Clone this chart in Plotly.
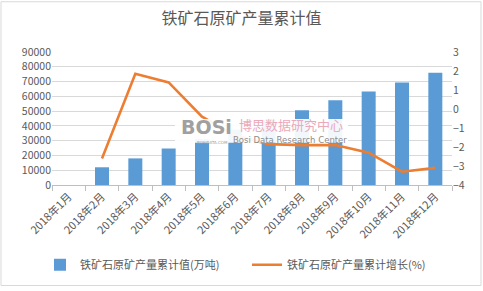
import plotly.graph_objects as go

categories = ["2018年1月", "2018年2月", "2018年3月", "2018年4月", "2018年5月", "2018年6月",
              "2018年7月", "2018年8月", "2018年9月", "2018年10月", "2018年11月", "2018年12月"]
output_values = [None, 12000, 18000, 24700, 31000, 37500, 44000, 50500, 57300, 63300, 69300, 76000]
growth_values = [None, -2.6, 1.85, 1.4, -0.4, -1.4, -1.85, -1.9, -1.9, -2.3, -3.3, -3.1]

bar_name = "铁矿石原矿产量累计值(万吨)"
line_name = "铁矿石原矿产量累计增长(%)"
title_text = "铁矿石原矿产量累计值"

FONT = "Noto Sans CJK SC"
GREY = "#595959"

fig = go.Figure()
fig.add_trace(go.Bar(x=categories, y=output_values, name=bar_name,
                     marker=dict(color="#5B9BD5", line=dict(width=0)), width=0.42, yaxis="y"))
fig.add_trace(go.Scatter(x=categories, y=growth_values, name=line_name, mode="lines",
                         line=dict(color="#ED7D31", width=2.6), yaxis="y2", connectgaps=False))

L, R, T, B = 52, 31, 52, 104
W, H = 483, 291
pw, ph = W - L - R, H - T - B

def px(x):
    return (x - L) / pw

def py(y):
    return (H - B - y) / ph

fig.update_layout(
    width=W, height=H,
    margin=dict(l=L, r=R, t=T, b=B),
    paper_bgcolor="white", plot_bgcolor="white",
    font=dict(family=FONT, size=11, color=GREY),
    title=dict(text=title_text, x=0.5, xanchor="center", y=1 - 18 / H, yanchor="middle",
               font=dict(family=FONT, size=16, color=GREY)),
    bargap=0.58,
    showlegend=True,
    legend=dict(orientation="h", x=px(40), y=py(268), xanchor="left", yanchor="middle",
                font=dict(family=FONT, size=11, color=GREY), entrywidth=162, entrywidthmode="pixels",
                bgcolor="rgba(0,0,0,0)", itemwidth=30),
    xaxis=dict(type="category", tickangle=-45, showgrid=False, showline=True, linecolor="#BFBFBF",
               linewidth=1, ticks="outside", tickson="boundaries", ticklen=5, tickcolor="#BFBFBF",
               tickfont=dict(family=FONT, size=11, color=GREY)),
    yaxis=dict(range=[0, 90000], dtick=10000, showgrid=True, gridcolor="#D9D9D9", gridwidth=1,
               zeroline=False, showline=False, ticks="", tickformat="d",
               tickfont=dict(family=FONT, size=10.5, color=GREY)),
    yaxis2=dict(range=[-4, 3], dtick=1, overlaying="y", side="right", showgrid=False,
                zeroline=False, showline=False, ticks="",
                tickfont=dict(family=FONT, size=10.5, color=GREY)),
)

shapes = [
    dict(type="rect", xref="paper", yref="paper", x0=px(175), x1=px(348), y0=py(144), y1=py(120),
         fillcolor="rgba(255,255,255,0.92)", line=dict(width=0), layer="above"),
    dict(type="rect", xref="paper", yref="paper", x0=px(1), x1=px(481), y0=py(289), y1=py(1),
         fillcolor="rgba(0,0,0,0)", line=dict(color="#D9D9D9", width=1), layer="below"),
]
fig.update_layout(shapes=shapes)

annotations = [
    dict(text="<b>BOSi</b>", xref="paper", yref="paper", x=px(206), y=py(128), showarrow=False,
         font=dict(family="DejaVu Sans", size=19, color="#A0A0A0"), xanchor="center", yanchor="middle"),
    dict(text="BOSIDATA.COM", xref="paper", yref="paper", x=px(212), y=py(143.5), showarrow=False,
         font=dict(family="DejaVu Sans", size=4, color="#A0A0A0"), xanchor="center", yanchor="middle"),
    dict(text="博思数据研究中心", xref="paper", yref="paper", x=px(291), y=py(126), showarrow=False,
         font=dict(family=FONT, size=13, color="#EBA9BA"), xanchor="center", yanchor="middle"),
    dict(text="Bosi Data Research Center", xref="paper", yref="paper", x=px(290), y=py(141), showarrow=False,
         font=dict(family="DejaVu Sans", size=8.5, color="#8C8C8C"), xanchor="center", yanchor="middle"),
]
fig.update_layout(annotations=annotations)

fig.write_html("out.html")
